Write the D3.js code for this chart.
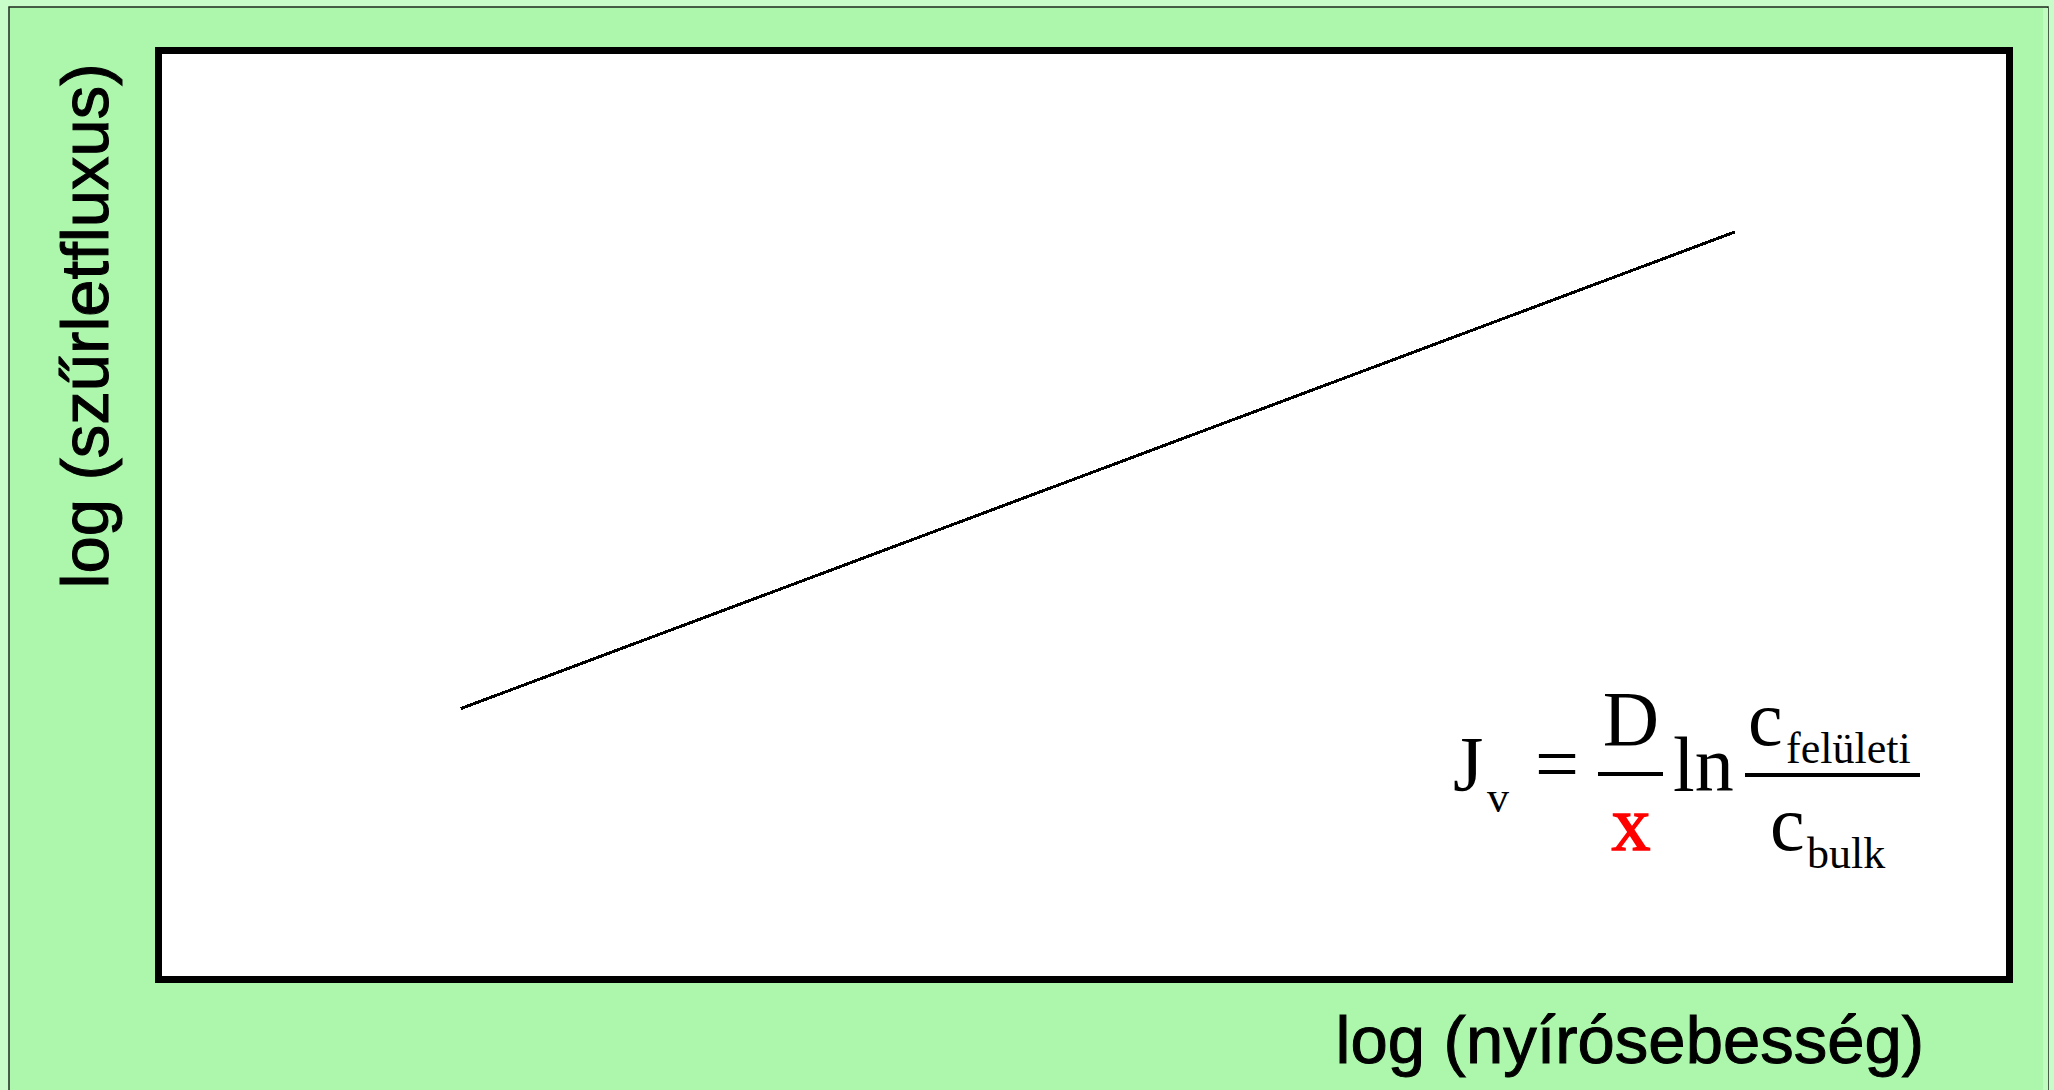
<!DOCTYPE html>
<html>
<head>
<meta charset="utf-8">
<title>log (szűrletfluxus) – log (nyírósebesség)</title>
<script src="https://cdn.jsdelivr.net/npm/d3@7"></script>
<style>
  html, body { margin: 0; padding: 0; background: #c8fcc8; }
  svg { display: block; }
</style>
</head>
<body>
<svg id="chart" width="2054" height="1090"></svg>
<script>
// Flux vs. shear rate on log–log axes (arbitrary log units, 0–10 on both axes)
const logShear = [1.62, 8.53];
const logFlux = [2.90, 8.07];
const xDomain = [0, 10];
const yDomain = [0, 10];

const xLabel = "log (nyírósebesség)";
const yLabel = "log (szűrletfluxus)";

const W = 2054, H = 1090;
const plot = { left: 162, top: 54, right: 2006, bottom: 976 };
const frameStroke = 7;

const svg = d3.select("#chart");

// outer panel
svg.append("rect")
  .attr("x", 0).attr("y", 0).attr("width", W).attr("height", H)
  .attr("fill", "#c8fcc8");
svg.append("rect")
  .attr("x", 9).attr("y", 7).attr("width", 2039).attr("height", H)
  .attr("fill", "#adf7ad").attr("stroke", "#1e2a1e").attr("stroke-width", 1.5);
svg.append("rect")
  .attr("x", 2043).attr("y", 8).attr("width", 5).attr("height", H)
  .attr("fill", "#c0fbc0");

const x = d3.scaleLinear().domain(xDomain).range([plot.left, plot.right]);
const y = d3.scaleLinear().domain(yDomain).range([plot.bottom, plot.top]);

// plot box
svg.append("rect")
  .attr("x", x(xDomain[0]) - frameStroke / 2)
  .attr("y", y(yDomain[1]) - frameStroke / 2)
  .attr("width", x(xDomain[1]) - x(xDomain[0]) + frameStroke)
  .attr("height", y(yDomain[0]) - y(yDomain[1]) + frameStroke)
  .attr("fill", "#ffffff")
  .attr("stroke", "#000000")
  .attr("stroke-width", frameStroke);

// the straight flux line
const pts = logShear.map((v, i) => [v, logFlux[i]]);
svg.append("path")
  .datum(pts)
  .attr("d", d3.line().x(d => x(d[0])).y(d => y(d[1])))
  .attr("fill", "none")
  .attr("stroke", "#000")
  .attr("stroke-width", 3)
  .attr("shape-rendering", "crispEdges");

// axis titles
const sans = "'Liberation Sans', Arial, sans-serif";
svg.append("text")
  .attr("x", 1924).attr("y", 1063)
  .attr("text-anchor", "end")
  .attr("font-family", sans).attr("font-size", 67)
  .attr("fill", "#000").attr("stroke", "#000").attr("stroke-width", 1)
  .text(xLabel);

svg.append("text")
  .attr("transform", "translate(108,326) rotate(-90)")
  .attr("text-anchor", "middle")
  .attr("font-family", sans).attr("font-size", 67)
  .attr("fill", "#000").attr("stroke", "#000").attr("stroke-width", 1)
  .text(yLabel);

// formula: J_v = D/x · ln(c_felületi / c_bulk)
const serif = "'Liberation Serif', 'Times New Roman', serif";
const big = 78, small = 44;
const f = svg.append("g").attr("font-family", serif).attr("fill", "#000");

function txt(t, px, py, size, opts = {}) {
  const el = f.append("text")
    .attr("x", px).attr("y", py)
    .attr("font-size", size)
    .attr("text-anchor", opts.anchor || "start")
    .text(t);
  if (opts.fill) el.attr("fill", opts.fill);
  if (opts.stroke) el.attr("stroke", opts.stroke).attr("stroke-width", 1.5);
  return el;
}

txt("J", 1453, 790, big);
txt("v", 1487, 812, small);
txt("=", 1535, 790, big);

f.append("line").attr("x1", 1598).attr("x2", 1663).attr("y1", 774).attr("y2", 774)
  .attr("stroke", "#000").attr("stroke-width", 4);
txt("D", 1631, 745, big, { anchor: "middle" });
txt("x", 1631, 850, big, { anchor: "middle", fill: "#ff0000", stroke: "#ff0000" });

txt("ln", 1673, 791, big);

f.append("line").attr("x1", 1745).attr("x2", 1920).attr("y1", 775).attr("y2", 775)
  .attr("stroke", "#000").attr("stroke-width", 4);
txt("c", 1748, 745, big);
txt("felületi", 1786, 763, small);
txt("c", 1770, 850, big);
txt("bulk", 1807, 868, small);
</script>
</body>
</html>
